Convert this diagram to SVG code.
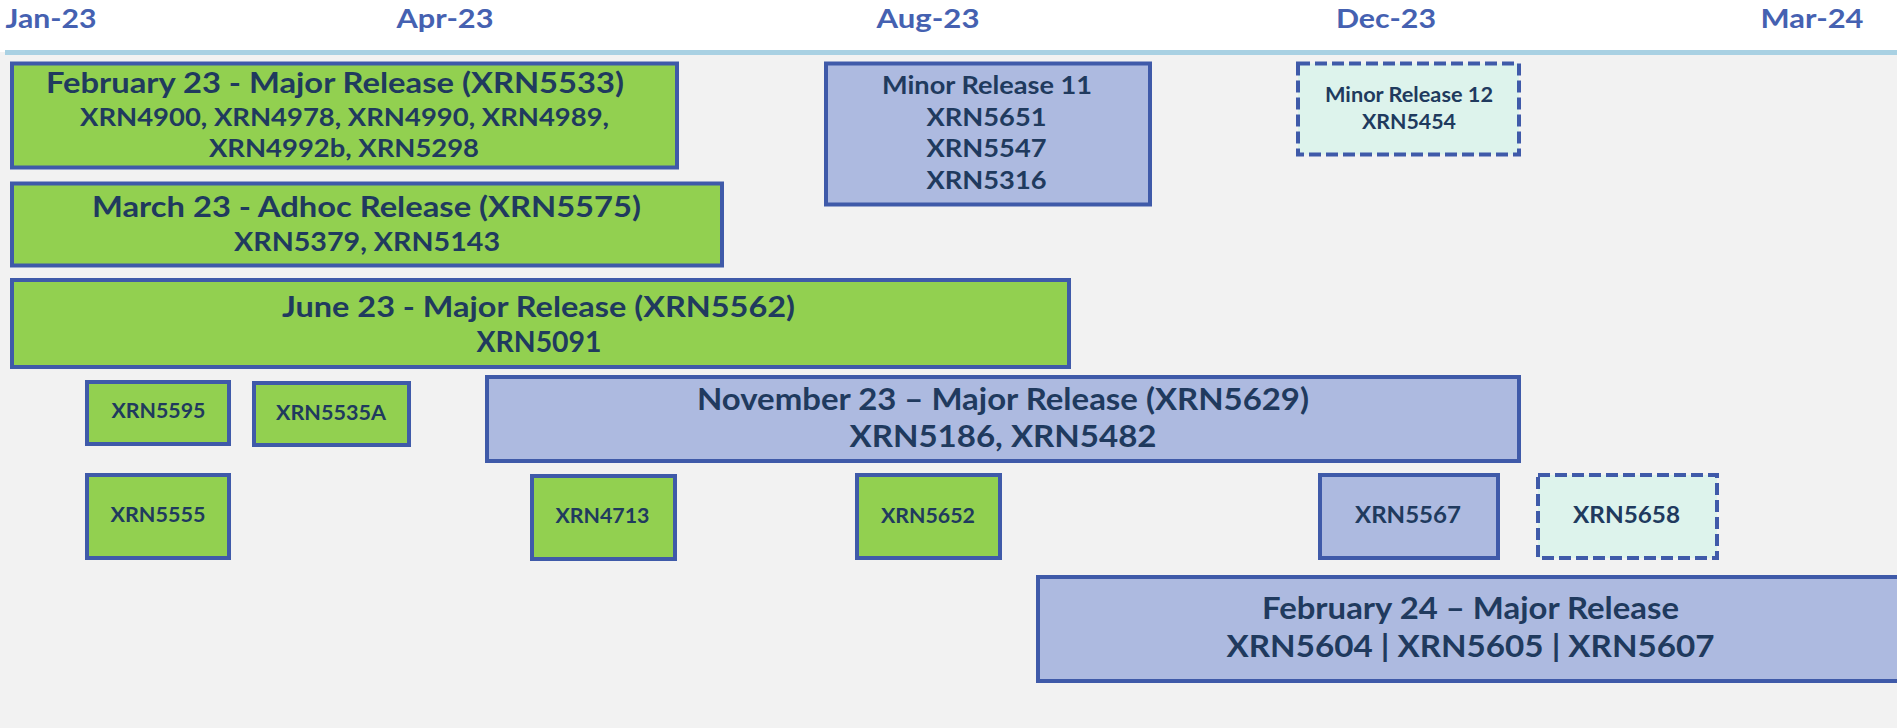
<svg xmlns="http://www.w3.org/2000/svg" width="1897" height="728" viewBox="0 0 1897 728">
<style>
.hdr{font-family:Lato,"Liberation Sans",sans-serif;font-weight:700;font-size:27.5px;fill:#4561b1;text-anchor:middle}
.t{font-family:Lato,"Liberation Sans",sans-serif;font-weight:700;fill:#203a5e;text-anchor:middle}
.g{fill:#92d050;stroke:#3f5aa9;stroke-width:4}
.b{fill:#adbae0;stroke:#3f5aa9;stroke-width:4}
.m{fill:#ddf3ec;stroke:#3f5aa9;stroke-width:4;stroke-dasharray:12 5}
</style>
<rect x="0" y="0" width="1897" height="728" fill="#f2f2f2"/>
<rect x="0" y="0" width="1897" height="52" fill="#ffffff"/>
<rect x="5" y="50" width="1892" height="5" fill="#a9d1e3"/>
<g id="header">
<text class="hdr" x="51" y="28" textLength="91" lengthAdjust="spacingAndGlyphs">Jan-23</text>
<text class="hdr" x="445" y="28" textLength="97" lengthAdjust="spacingAndGlyphs">Apr-23</text>
<text class="hdr" x="928" y="28" textLength="103" lengthAdjust="spacingAndGlyphs">Aug-23</text>
<text class="hdr" x="1386" y="28" textLength="100" lengthAdjust="spacingAndGlyphs">Dec-23</text>
<text class="hdr" x="1812" y="28" textLength="103" lengthAdjust="spacingAndGlyphs">Mar-24</text>
</g>
<g id="connectors"></g>
<g id="feb23">
<rect class="g" x="12" y="63.5" width="665" height="104"/>
<text class="t" x="335" y="92.7" font-size="28" textLength="578" lengthAdjust="spacingAndGlyphs">February 23 - Major Release (XRN5533)</text>
<text class="t" x="344.5" y="126" font-size="25" textLength="529" lengthAdjust="spacingAndGlyphs">XRN4900, XRN4978, XRN4990, XRN4989,</text>
<text class="t" x="344" y="157" font-size="25" textLength="270" lengthAdjust="spacingAndGlyphs">XRN4992b, XRN5298</text>
</g>
<g id="mar23">
<rect class="g" x="12" y="183.5" width="710" height="82"/>
<text class="t" x="366.5" y="216.7" font-size="28" textLength="549" lengthAdjust="spacingAndGlyphs">March 23 - Adhoc Release (XRN5575)</text>
<text class="t" x="367" y="250.7" font-size="27" textLength="266" lengthAdjust="spacingAndGlyphs">XRN5379, XRN5143</text>
</g>
<g id="jun23">
<rect class="g" x="12" y="280" width="1057" height="87"/>
<text class="t" x="538.5" y="316.7" font-size="28" textLength="513" lengthAdjust="spacingAndGlyphs">June 23 - Major Release (XRN5562)</text>
<text class="t" x="539" y="351.7" font-size="28" textLength="125" lengthAdjust="spacingAndGlyphs">XRN5091</text>
</g>
<g id="xrn5595">
<rect class="g" x="87" y="382" width="142" height="62"/>
<text class="t" x="158.5" y="418" font-size="21" textLength="94" lengthAdjust="spacingAndGlyphs">XRN5595</text>
</g>
<g id="xrn5535a">
<rect class="g" x="254" y="383" width="155" height="62"/>
<text class="t" x="331" y="420" font-size="21" textLength="110" lengthAdjust="spacingAndGlyphs">XRN5535A</text>
</g>
<g id="nov23">
<rect class="b" x="487" y="377" width="1032" height="84"/>
<text class="t" x="1003" y="410" font-size="30" textLength="612" lengthAdjust="spacingAndGlyphs">November 23 – Major Release (XRN5629)</text>
<text class="t" x="1003" y="446.7" font-size="30" textLength="307" lengthAdjust="spacingAndGlyphs">XRN5186, XRN5482</text>
</g>
<g id="xrn5555">
<rect class="g" x="87" y="475" width="142" height="83"/>
<text class="t" x="158" y="522" font-size="21" textLength="95" lengthAdjust="spacingAndGlyphs">XRN5555</text>
</g>
<g id="xrn4713">
<rect class="g" x="532" y="476" width="143" height="83"/>
<text class="t" x="602.5" y="523" font-size="21" textLength="94" lengthAdjust="spacingAndGlyphs">XRN4713</text>
</g>
<g id="xrn5652">
<rect class="g" x="857" y="475" width="143" height="83"/>
<text class="t" x="928" y="523" font-size="21" textLength="94" lengthAdjust="spacingAndGlyphs">XRN5652</text>
</g>
<g id="xrn5567">
<rect class="b" x="1320" y="475" width="178" height="83"/>
<text class="t" x="1408" y="523" font-size="23" textLength="106" lengthAdjust="spacingAndGlyphs">XRN5567</text>
</g>
<g id="xrn5658">
<rect class="m" x="1538" y="475" width="179" height="83"/>
<text class="t" x="1626.5" y="523" font-size="23" textLength="107" lengthAdjust="spacingAndGlyphs">XRN5658</text>
</g>
<g id="feb24">
<rect class="b" x="1038" y="577" width="866" height="104"/>
<text class="t" x="1470.5" y="619.3" font-size="30" textLength="417" lengthAdjust="spacingAndGlyphs">February 24 – Major Release</text>
<text class="t" x="1470.5" y="656.7" font-size="30" textLength="488" lengthAdjust="spacingAndGlyphs">XRN5604 | XRN5605 | XRN5607</text>
</g>
<g id="minor11">
<rect class="b" x="826" y="63.5" width="324" height="141"/>
<text class="t" x="987" y="94.3" font-size="25" textLength="210" lengthAdjust="spacingAndGlyphs">Minor Release 11</text>
<text class="t" x="986.5" y="126" font-size="25" textLength="120" lengthAdjust="spacingAndGlyphs">XRN5651</text>
<text class="t" x="986.5" y="157.3" font-size="25" textLength="120" lengthAdjust="spacingAndGlyphs">XRN5547</text>
<text class="t" x="986.5" y="189.3" font-size="25" textLength="120" lengthAdjust="spacingAndGlyphs">XRN5316</text>
</g>
<g id="minor12">
<rect class="m" x="1298" y="63.5" width="221" height="91"/>
<text class="t" x="1409" y="101.7" font-size="20" textLength="168" lengthAdjust="spacingAndGlyphs">Minor Release 12</text>
<text class="t" x="1409" y="129" font-size="20" textLength="94" lengthAdjust="spacingAndGlyphs">XRN5454</text>
</g>
</svg>
